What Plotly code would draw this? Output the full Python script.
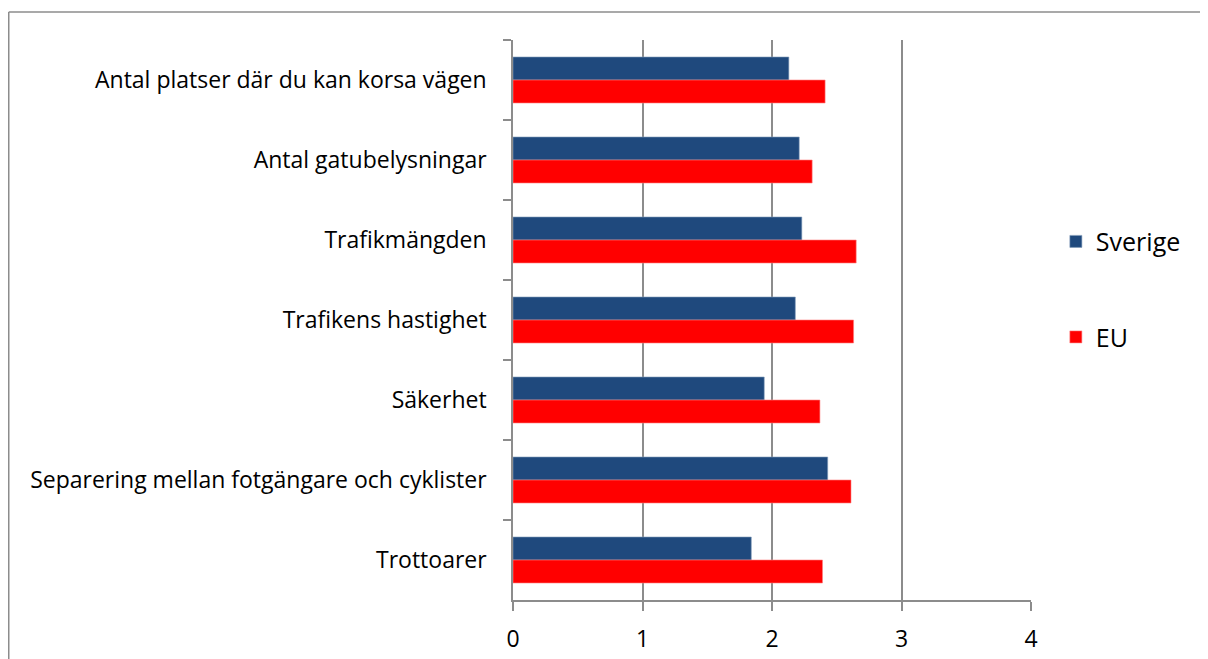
import plotly.graph_objects as go

categories = [
    "Antal platser där du kan korsa vägen",
    "Antal gatubelysningar",
    "Trafikmängden",
    "Trafikens hastighet",
    "Säkerhet",
    "Separering mellan fotgängare och cyklister",
    "Trottoarer",
]
sverige = [2.13, 2.21, 2.23, 2.18, 1.94, 2.43, 1.84]
eu = [2.41, 2.31, 2.65, 2.63, 2.37, 2.61, 2.39]
x_ticks = [0, 1, 2, 3, 4]

FONT = "Open Sans"
GRID = "#8c8c8c"

W, H = 1200, 651
L, T, PW, PH = 505, 32, 518, 560

fig = go.Figure()
fig.add_trace(go.Bar(
    y=categories, x=sverige, name="Sverige", orientation="h",
    marker=dict(color="#1F497D", line=dict(color="#7f9ab8", width=0.6)),
    legendgroup="a",
))
fig.add_trace(go.Bar(
    y=categories, x=eu, name="EU", orientation="h",
    marker=dict(color="#FF0000", line=dict(color="#ff8080", width=0.6)),
    legendgroup="b",
))

fig.update_layout(
    width=W, height=H,
    margin=dict(l=L, r=W - L - PW, t=T, b=H - T - PH),
    paper_bgcolor="white", plot_bgcolor="white",
    barmode="group", bargap=0.425, bargroupgap=0,
    font=dict(family=FONT, size=23, color="black"),
    legend=dict(
        x=1.048, y=0.681, xanchor="left", yanchor="top",
        font=dict(family=FONT, size=25),
        tracegroupgap=60, itemwidth=30, traceorder="grouped",
    ),
    showlegend=True,
)
fig.update_xaxes(
    range=[0, 4], tickvals=x_ticks, ticktext=[str(v) for v in x_ticks],
    showgrid=True, gridcolor=GRID, gridwidth=1.5,
    showline=True, linecolor=GRID, linewidth=1.5,
    ticks="outside", ticklen=9, tickcolor=GRID, tickwidth=1.5,
    zeroline=False, tickfont=dict(family=FONT, size=23), ticklabelstandoff=9,
    automargin=False,
)
fig.update_yaxes(
    autorange="reversed", type="category",
    showline=True, linecolor=GRID, linewidth=1.5,
    ticks="outside", ticklen=8, tickcolor=GRID, tickwidth=1.5,
    tickson="boundaries", showgrid=False, ticklabelstandoff=20,
    tickfont=dict(family=FONT, size=23), automargin=False,
)
fx0 = (0.75 - L) / PW
fy1 = 1 + (T - 4) / PH
fig.add_shape(type="line", xref="paper", yref="paper",
              x0=fx0, x1=fx0, y0=-0.3, y1=fy1,
              line=dict(color="#8c8c8c", width=1.5), layer="below")
fig.add_shape(type="line", xref="paper", yref="paper",
              x0=fx0, x1=1.5, y0=fy1, y1=fy1,
              line=dict(color="#8c8c8c", width=1.5), layer="below")
fig.write_html(
    "out.html",
    post_script="document.documentElement.style.overflow='hidden';document.body.style.overflow='hidden';",
)
